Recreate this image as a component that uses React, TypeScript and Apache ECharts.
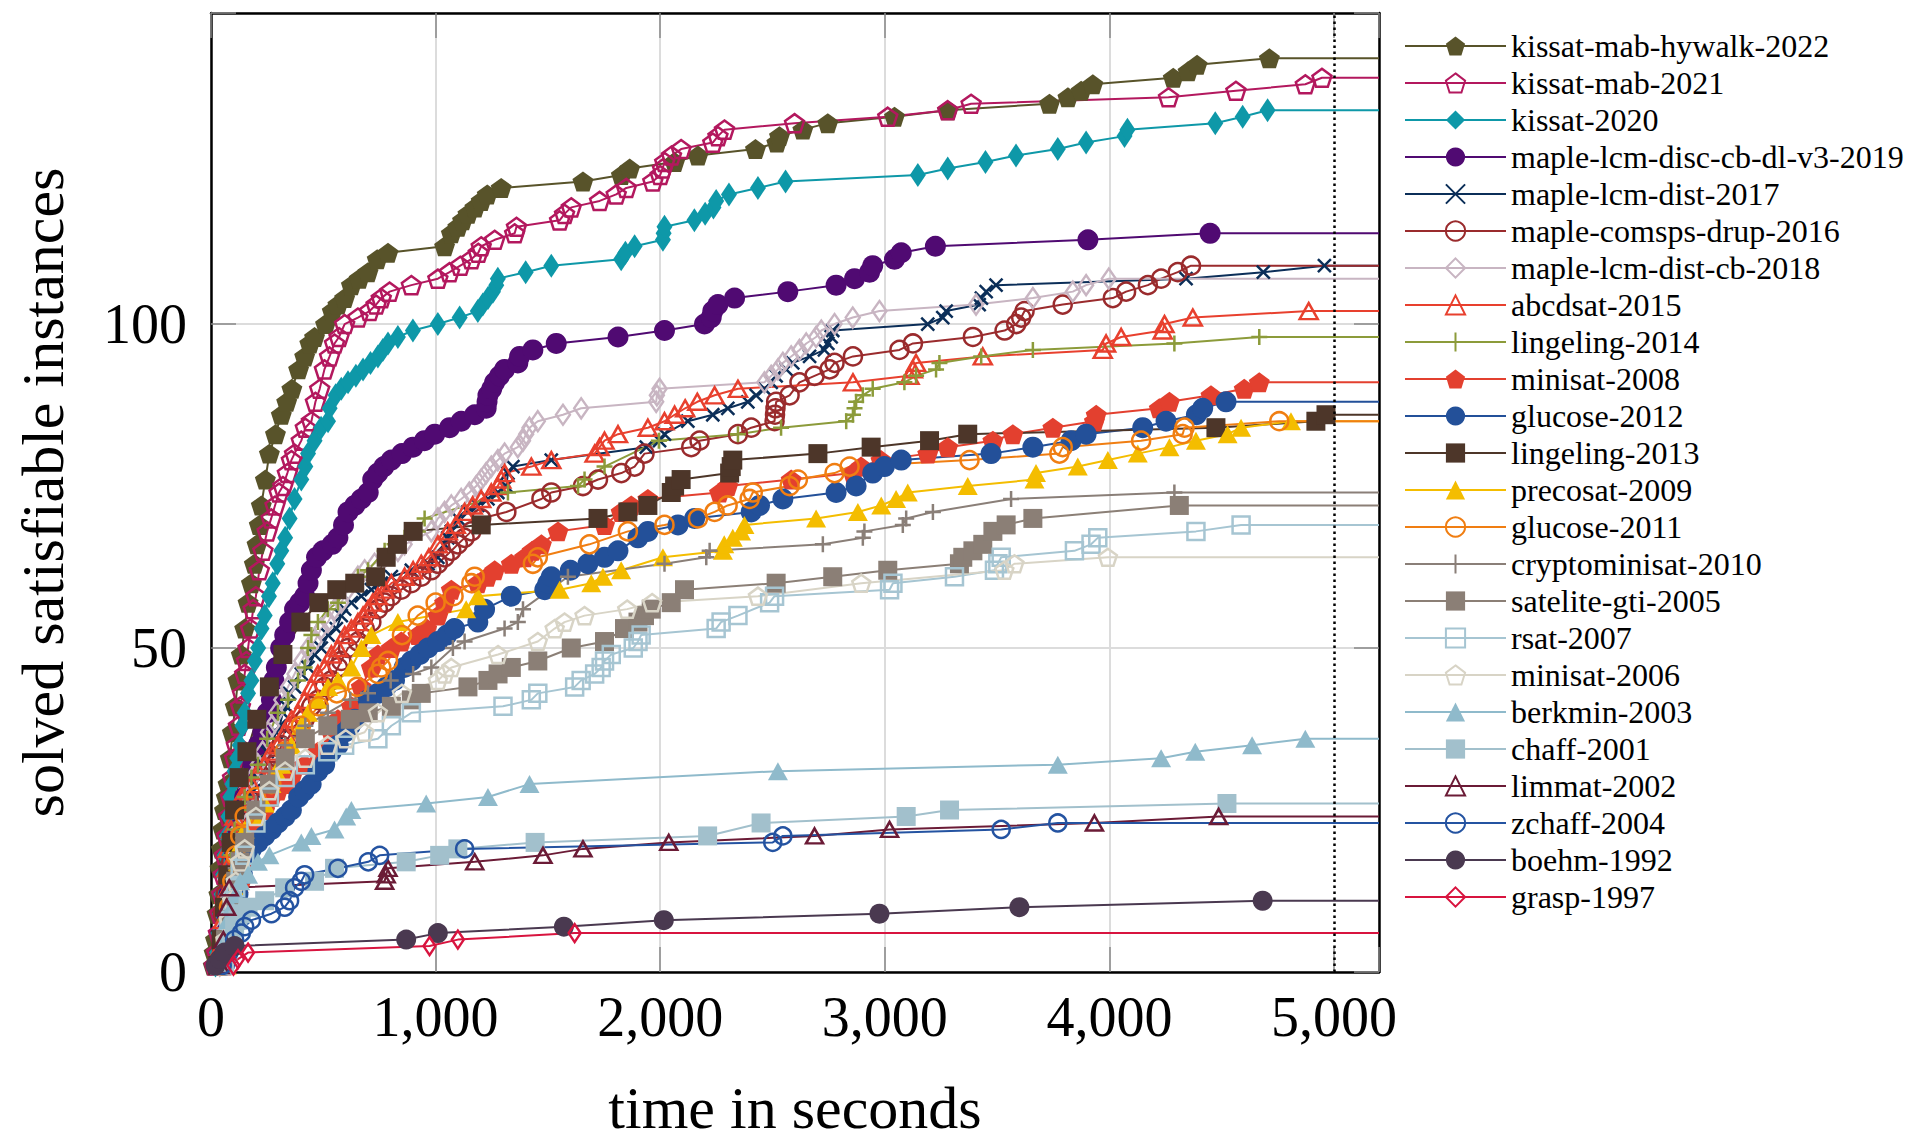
import React, { useEffect, useRef } from 'react';
import * as echarts from 'echarts';

const FONT = '"Liberation Serif", "Times New Roman", serif';

// x-axis ticks and range (seconds), y-axis ticks and range (instances)
const xTickStep = 1000;
const xMax = 5200;
const yTickStep = 50;
const yMax = 148;
const timeoutLine = 5000;

// [time in seconds, solved instances]
const kissatMabHywalk2022 = [[10,1],[14,3],[20,5],[27,9],[35,12],[40,16],[46,19],[53,22],[60,25],[68,27],[76,29],[86,33],[95,37],[108,41],[120,45],[135,49],[150,53],[165,57],[180,60],[193,63],[205,66],[215,69],[224,72],[242,76],[260,80],[287,83],[313,86],[337,88],[360,90],[390,93],[417,95],[440,97],[461,98],[510,100],[540,102],[565,103],[595,104],[625,106],[660,107],[699,108],[740,110],[788,111],[1040,112],[1070,114],[1099,115],[1120,116],[1144,117],[1175,118],[1203,119],[1230,120],[1292,121],[1656,122],[1827,123],[1864,124],[2064,125],[2168,126],[2424,127],[2519,128],[2531,129],[2635,130],[2746,131],[3043,132],[3280,133],[3733,134],[3815,135],[3874,136],[3926,137],[4284,138],[4350,139],[4390,140],[4712,141]];
const kissatMab2021 = [[15,1],[25,3],[33,6],[40,9],[48,12],[55,15],[61,18],[70,21],[78,24],[87,27],[96,30],[105,33],[113,35],[122,38],[131,41],[140,43],[150,46],[158,48],[165,50],[176,53],[188,56],[200,58],[215,62],[231,65],[250,68],[268,70],[285,72],[303,74],[320,75],[340,77],[358,79],[372,80],[402,82],[420,84],[447,85],[465,88],[484,90],[505,93],[528,95],[550,97],[570,98],[595,100],[654,101],[706,102],[735,103],[758,104],[795,105],[892,106],[1010,107],[1062,108],[1110,109],[1159,110],[1190,111],[1203,112],[1263,113],[1352,114],[1360,115],[1552,116],[1574,117],[1604,118],[1730,119],[1804,120],[1849,121],[1967,122],[2000,123],[2010,124],[2020,125],[2050,126],[2093,127],[2234,128],[2257,129],[2286,130],[2598,131],[3013,132],[3280,133],[3384,134],[4263,135],[4563,136],[4872,137],[4946,138]];
const kissat2020 = [[20,1],[27,3],[33,6],[40,9],[47,12],[54,15],[61,18],[70,21],[78,24],[86,27],[95,29],[105,31],[117,33],[128,35],[140,38],[150,40],[165,43],[180,45],[195,48],[210,50],[225,53],[239,55],[258,58],[275,60],[295,63],[313,65],[330,67],[350,70],[372,73],[402,76],[420,78],[432,80],[461,82],[490,84],[521,85],[528,87],[555,89],[580,90],[610,91],[645,92],[677,93],[710,94],[743,95],[765,96],[788,97],[832,98],[899,99],[1010,100],[1107,101],[1188,102],[1210,103],[1233,104],[1255,105],[1270,106],[1277,107],[1401,108],[1515,109],[1826,110],[1845,111],[1886,112],[2012,113],[2015,114],[2019,115],[2152,116],[2200,117],[2237,118],[2249,119],[2306,120],[2435,121],[2558,122],[3147,123],[3280,124],[3448,125],[3584,126],[3770,127],[3896,128],[4067,129],[4080,130],[4471,131],[4593,132],[4704,133]];
const mapleLcmDiscCbDlV32019 = [[46,1],[53,3],[61,6],[70,9],[80,12],[91,14],[105,18],[120,22],[135,25],[150,27],[168,30],[187,32],[210,35],[231,37],[250,40],[269,42],[280,45],[291,47],[310,50],[328,52],[350,54],[372,56],[395,57],[417,58],[432,60],[447,62],[470,64],[498,65],[540,66],[565,67],[590,69],[610,71],[640,72],[669,73],[700,74],[720,76],[743,77],[770,78],[803,79],[850,80],[899,81],[950,82],[996,83],[1062,84],[1114,85],[1174,86],[1225,87],[1229,88],[1233,89],[1250,90],[1263,91],[1285,92],[1307,93],[1366,94],[1374,95],[1433,96],[1537,97],[1812,98],[2019,99],[2197,100],[2227,101],[2234,102],[2257,103],[2331,104],[2568,105],[2783,106],[2865,107],[2932,108],[2946,109],[3043,110],[3073,111],[3225,112],[3904,113],[4448,114]];
const mapleLcmDist2017 = [[40,1],[55,4],[70,8],[90,12],[110,16],[130,19],[150,22],[170,25],[190,28],[210,30],[230,32],[250,34],[270,35],[290,37],[306,38],[320,40],[335,41],[350,43],[372,44],[402,46],[432,47],[461,49],[491,50],[521,52],[558,53],[580,55],[595,56],[625,57],[669,58],[714,59],[758,60],[803,61],[892,62],[966,63],[1010,64],[1040,66],[1054,67],[1070,68],[1099,70],[1144,71],[1188,72],[1233,73],[1277,74],[1315,75],[1322,77],[1344,78],[1515,79],[1938,81],[1997,82],[2019,83],[2123,85],[2234,86],[2301,87],[2390,88],[2427,89],[2464,90],[2494,91],[2516,92],[2561,93],[2590,94],[2665,95],[2731,96],[2746,97],[2761,98],[2768,99],[3191,100],[3258,101],[3273,102],[3420,103],[3430,104],[3451,105],[3495,106],[4341,107],[4685,108],[4957,109]];
const mapleComspsDrup2016 = [[39,1],[46,4],[53,9],[65,12],[76,14],[90,17],[105,19],[128,21],[150,22],[172,23],[194,24],[220,26],[246,27],[260,28],[269,29],[276,31],[283,32],[298,33],[313,35],[343,36],[372,38],[417,39],[447,41],[476,42],[506,44],[536,45],[565,47],[580,48],[610,50],[654,51],[684,53],[714,54],[743,56],[773,57],[803,58],[847,59],[892,60],[936,61],[981,62],[1010,63],[1040,64],[1070,65],[1099,66],[1129,67],[1159,68],[1203,70],[1315,71],[1471,73],[1515,74],[1656,75],[1723,76],[1827,77],[1886,78],[1930,80],[2138,81],[2175,82],[2346,83],[2405,84],[2509,85],[2511,86],[2513,87],[2516,88],[2576,89],[2620,91],[2687,92],[2754,93],[2776,94],[2858,95],[3065,96],[3125,97],[3392,98],[3533,99],[3585,100],[3607,101],[3622,102],[3792,103],[4015,104],[4074,105],[4171,106],[4230,107],[4304,108],[4363,109]];
const mapleLcmDistCb2018 = [[39,1],[46,4],[53,7],[65,11],[83,14],[100,18],[120,22],[140,25],[165,27],[185,30],[209,32],[230,34],[254,37],[272,38],[291,40],[313,42],[343,44],[372,46],[402,48],[432,50],[461,51],[491,53],[521,54],[550,56],[580,57],[610,59],[654,61],[684,62],[728,63],[773,64],[832,65],[862,66],[981,68],[1010,70],[1040,71],[1070,72],[1114,73],[1150,74],[1181,75],[1203,76],[1225,77],[1248,78],[1277,79],[1307,80],[1366,81],[1389,82],[1403,83],[1418,84],[1455,85],[1567,86],[1648,87],[1982,88],[1985,89],[1997,90],[2464,91],[2494,92],[2524,93],[2546,94],[2583,95],[2620,96],[2650,97],[2694,98],[2717,99],[2776,100],[2857,101],[2976,102],[3406,103],[3659,104],[3837,105],[3896,106],[3997,107]];
const abcdsat2015 = [[39,1],[45,4],[53,8],[62,12],[70,16],[76,19],[90,22],[105,24],[120,26],[135,27],[158,28],[180,29],[210,31],[239,32],[268,34],[298,35],[328,37],[358,39],[388,40],[417,42],[446,44],[476,46],[506,47],[536,49],[566,50],[595,52],[625,53],[654,54],[677,55],[699,56],[720,57],[743,58],[773,59],[803,60],[862,61],[900,62],[936,63],[970,64],[1010,66],[1054,68],[1090,69],[1129,71],[1165,72],[1203,73],[1248,74],[1277,75],[1292,76],[1307,77],[1426,78],[1515,79],[1708,80],[1730,81],[1752,82],[1812,83],[1945,84],[2019,85],[2064,86],[2111,87],[2165,88],[2242,89],[2346,90],[2858,91],[3110,92],[3125,93],[3139,94],[3436,95],[3970,96],[3985,97],[4052,98],[4237,99],[4245,100],[4371,101],[4887,102]];
const lingeling2014 = [[46,1],[55,4],[65,8],[76,14],[90,18],[105,22],[128,25],[150,27],[180,30],[209,32],[250,36],[298,40],[343,42],[387,45],[417,47],[432,50],[447,52],[476,54],[520,56],[565,57],[595,59],[610,60],[654,61],[699,62],[773,65],[817,66],[862,67],[921,68],[951,70],[1322,74],[1634,75],[1663,76],[1752,78],[1994,82],[2346,83],[2538,84],[2828,85],[2858,86],[2865,87],[2872,88],[2902,89],[2946,90],[3087,91],[3139,92],[3228,93],[3243,94],[3429,95],[3659,96],[4289,97],[4667,98]];
const minisat2008 = [[61,1],[70,3],[76,4],[90,7],[105,9],[120,12],[135,14],[150,17],[165,19],[180,21],[194,23],[239,25],[270,27],[298,28],[330,29],[358,30],[417,32],[476,34],[536,37],[565,39],[625,41],[669,44],[714,47],[743,49],[803,50],[847,51],[921,52],[960,53],[1010,55],[1040,57],[1070,59],[1188,60],[1230,61],[1263,62],[1337,63],[1396,64],[1430,65],[1471,66],[1545,68],[1752,69],[1826,71],[1871,72],[1945,73],[2264,74],[2301,75],[2583,76],[2858,77],[2894,78],[2983,79],[3191,80],[3280,81],[3481,82],[3570,83],[3748,84],[3933,85],[3941,86],[4222,87],[4267,88],[4452,89],[4600,90],[4667,91]];
const glucose2012 = [[60,1],[80,4],[100,8],[120,12],[140,15],[160,18],[180,19],[209,20],[239,21],[270,22],[298,23],[330,24],[358,25],[390,27],[417,28],[446,29],[476,31],[506,32],[536,34],[566,35],[595,37],[620,38],[640,39],[699,42],[743,43],[780,44],[817,45],[860,47],[892,48],[930,49],[966,50],[1010,51],[1050,52],[1084,53],[1188,54],[1218,56],[1337,58],[1486,59],[1500,60],[1515,61],[1600,62],[1678,63],[1752,64],[1812,65],[1901,67],[1945,68],[2079,69],[2153,70],[2405,71],[2442,72],[2546,73],[2783,74],[2872,75],[2946,77],[2998,78],[3073,79],[3473,80],[3659,81],[3829,82],[3896,83],[4148,84],[4252,85],[4387,86],[4415,87],[4519,88]];
const lingeling2013 = [[30,1],[45,5],[60,10],[75,15],[90,20],[105,25],[125,30],[160,34],[204,39],[260,44],[320,49],[400,54],[480,57],[560,59],[640,60],[733,61],[780,64],[830,66],[900,68],[1203,69],[1723,70],[1856,71],[1945,72],[2049,74],[2064,75],[2093,76],[2309,77],[2316,78],[2323,79],[2702,80],[2939,81],[3199,82],[3369,83],[4474,84],[4919,85],[4964,86]];
const precosat2009 = [[70,1],[76,3],[85,6],[91,9],[105,13],[120,17],[135,20],[150,22],[194,24],[239,26],[269,29],[290,31],[313,32],[358,35],[402,38],[432,40],[476,42],[521,44],[565,45],[625,47],[670,50],[714,52],[832,54],[1136,56],[1188,58],[1552,59],[1693,60],[1745,61],[1826,62],[2012,64],[2279,65],[2285,66],[2323,67],[2360,68],[2375,69],[2694,70],[2880,71],[2984,72],[3050,73],[3102,74],[3369,75],[3666,76],[3673,77],[3859,78],[3993,79],[4126,80],[4267,81],[4385,82],[4526,83],[4586,84],[4808,85]];
const glucose2011 = [[50,1],[65,5],[80,10],[95,14],[110,18],[130,21],[150,24],[200,27],[269,29],[328,34],[400,38],[480,41],[560,43],[650,44],[743,46],[758,47],[788,48],[850,52],[920,55],[1000,57],[1080,58],[1159,60],[1174,61],[1433,63],[1455,64],[1685,66],[1856,68],[2019,69],[2168,70],[2242,71],[2300,72],[2398,73],[2412,74],[2576,75],[2613,76],[2776,77],[2843,78],[3377,79],[3777,80],[3792,81],[4141,82],[4326,83],[4334,84],[4756,85]];
const cryptominisat2010 = [[40,1],[55,5],[70,9],[90,13],[110,16],[150,21],[200,26],[260,31],[330,35],[420,38],[520,40],[620,42],[699,43],[800,45],[900,46],[981,47],[1077,50],[1129,51],[1307,53],[1366,54],[1389,56],[1589,61],[2019,63],[2205,64],[2220,65],[2724,66],[2902,67],[2909,68],[3080,69],[3095,70],[3214,71],[3562,73],[4289,74]];
const sateliteGti2005 = [[50,1],[65,5],[80,8],[95,11],[110,14],[130,17],[150,20],[200,25],[260,29],[330,33],[420,36],[520,38],[620,39],[700,40],[803,41],[892,42],[936,43],[1144,44],[1233,45],[1278,46],[1337,47],[1455,48],[1604,50],[1752,51],[1841,53],[1901,54],[1930,55],[1960,56],[2049,57],[2108,59],[2516,60],[2768,61],[3013,62],[3332,63],[3347,64],[3392,65],[3436,66],[3481,68],[3540,69],[3659,70],[4311,72]];
const rsat2007 = [[50,1],[65,4],[80,8],[95,11],[110,13],[130,16],[150,18],[200,23],[260,27],[330,30],[420,32],[520,34],[595,35],[743,36],[803,38],[892,40],[1300,41],[1426,42],[1455,43],[1619,44],[1648,45],[1708,46],[1737,47],[1752,48],[1782,49],[1880,50],[1901,51],[1915,52],[2249,53],[2271,54],[2346,55],[2487,57],[2509,58],[3021,59],[3036,60],[3310,61],[3488,62],[3503,63],[3518,64],[3844,65],[3918,66],[3948,67],[4385,68],[4586,69]];
const minisat2006 = [[50,1],[65,5],[80,8],[95,11],[110,14],[130,17],[150,19],[200,24],[260,28],[330,31],[420,33],[520,35],[600,36],[684,37],[743,40],[850,43],[1010,45],[1040,46],[1070,47],[1278,49],[1455,51],[1530,53],[1574,54],[1663,55],[1853,56],[1964,57],[2435,58],[2895,60],[3532,62],[3577,63],[3993,64]];
const berkmin2003 = [[40,1],[50,3],[61,5],[75,8],[91,10],[110,12],[130,14],[165,15],[209,17],[260,18],[402,20],[447,21],[550,22],[602,24],[625,25],[958,26],[1233,27],[1418,29],[2524,31],[3770,32],[4230,33],[4382,34],[4635,35],[4872,36]];
const chaff2001 = [[60,1],[75,3],[91,5],[105,7],[120,8],[135,9],[165,10],[239,11],[328,13],[461,14],[550,16],[869,17],[1018,18],[1099,19],[1443,20],[2211,21],[2449,23],[3095,24],[3288,25],[4523,26]];
const limmat2002 = [[40,1],[55,5],[70,10],[81,13],[773,14],[780,15],[788,16],[1174,17],[1478,18],[1656,19],[2038,20],[2687,21],[3021,22],[3933,23],[4486,24]];
const zchaff2004 = [[50,1],[80,3],[105,5],[135,6],[150,7],[180,8],[269,9],[328,10],[350,11],[372,13],[402,14],[417,15],[565,16],[700,17],[751,18],[1129,19],[2501,20],[2546,21],[3518,22],[3770,23]];
const boehm1992 = [[20,1],[40,2],[60,3],[105,4],[869,5],[1010,6],[1571,7],[2016,8],[2976,9],[3599,10],[4682,11]];
const grasp1997 = [[100,1],[120,2],[165,3],[973,4],[1099,5],[1619,6]];

const PENTAGON = 'path://M0,-1L0.951,-0.309L0.588,0.809L-0.588,0.809L-0.951,-0.309Z';
const CROSS = 'path://M-1,-1L1,1M-1,1L1,-1';
const PLUS = 'path://M0,-1L0,1M-1,0L1,0';

type Kind = 'fill' | 'hollow' | 'stroke';
interface Spec { name: string; data: number[][]; color: string; symbol: string; size: number | number[]; kind: Kind; }

const specs: Spec[] = [
  { name: 'kissat-mab-hywalk-2022', data: kissatMabHywalk2022, color: '#58532A', symbol: PENTAGON, size: 21, kind: 'fill' },
  { name: 'kissat-mab-2021', data: kissatMab2021, color: '#B3185E', symbol: PENTAGON, size: 19, kind: 'hollow' },
  { name: 'kissat-2020', data: kissat2020, color: '#0E98A8', symbol: 'diamond', size: [16, 24], kind: 'fill' },
  { name: 'maple-lcm-disc-cb-dl-v3-2019', data: mapleLcmDiscCbDlV32019, color: '#500A72', symbol: 'circle', size: 21, kind: 'fill' },
  { name: 'maple-lcm-dist-2017', data: mapleLcmDist2017, color: '#0B2E58', symbol: CROSS, size: 13, kind: 'stroke' },
  { name: 'maple-comsps-drup-2016', data: mapleComspsDrup2016, color: '#9A2B2D', symbol: 'circle', size: 18, kind: 'hollow' },
  { name: 'maple-lcm-dist-cb-2018', data: mapleLcmDistCb2018, color: '#C8B5C2', symbol: 'diamond', size: [14, 20], kind: 'hollow' },
  { name: 'abcdsat-2015', data: abcdsat2015, color: '#E8402E', symbol: 'triangle', size: [18, 16], kind: 'hollow' },
  { name: 'lingeling-2014', data: lingeling2014, color: '#8C9B3A', symbol: PLUS, size: 16, kind: 'stroke' },
  { name: 'minisat-2008', data: minisat2008, color: '#E3402F', symbol: PENTAGON, size: 21, kind: 'fill' },
  { name: 'glucose-2012', data: glucose2012, color: '#235099', symbol: 'circle', size: 21, kind: 'fill' },
  { name: 'lingeling-2013', data: lingeling2013, color: '#4D3629', symbol: 'rect', size: 19, kind: 'fill' },
  { name: 'precosat-2009', data: precosat2009, color: '#F4BD00', symbol: 'triangle', size: [20, 18], kind: 'fill' },
  { name: 'glucose-2011', data: glucose2011, color: '#F07E12', symbol: 'circle', size: 18, kind: 'hollow' },
  { name: 'cryptominisat-2010', data: cryptominisat2010, color: '#8A7F78', symbol: PLUS, size: 16, kind: 'stroke' },
  { name: 'satelite-gti-2005', data: sateliteGti2005, color: '#8B7F76', symbol: 'rect', size: 19, kind: 'fill' },
  { name: 'rsat-2007', data: rsat2007, color: '#A6C5D2', symbol: 'rect', size: 17, kind: 'hollow' },
  { name: 'minisat-2006', data: minisat2006, color: '#D8D4C6', symbol: PENTAGON, size: 18, kind: 'hollow' },
  { name: 'berkmin-2003', data: berkmin2003, color: '#8FBACB', symbol: 'triangle', size: [20, 18], kind: 'fill' },
  { name: 'chaff-2001', data: chaff2001, color: '#A2C0CC', symbol: 'rect', size: 19, kind: 'fill' },
  { name: 'limmat-2002', data: limmat2002, color: '#6B1B36', symbol: 'triangle', size: [17, 15], kind: 'hollow' },
  { name: 'zchaff-2004', data: zchaff2004, color: '#2453A1', symbol: 'circle', size: 17, kind: 'hollow' },
  { name: 'boehm-1992', data: boehm1992, color: '#4A3950', symbol: 'circle', size: 20, kind: 'fill' },
  { name: 'grasp-1997', data: grasp1997, color: '#D8143F', symbol: 'diamond', size: [12, 18], kind: 'hollow' },
];

function itemStyleFor(s: Spec) {
  if (s.kind === 'hollow') return { color: 'rgba(255,255,255,0)', borderColor: s.color, borderWidth: 2.5 };
  if (s.kind === 'stroke') return { color: s.color, borderColor: s.color, borderWidth: 2.5 };
  return { color: s.color, borderColor: s.color, borderWidth: 0 };
}

const xLabel = (v: number) => (v % xTickStep === 0 ? v.toLocaleString('en-US') : '');
const yLabel = (v: number) => (v % yTickStep === 0 ? String(v) : '');

export default function App() {
  const ref = useRef<HTMLDivElement>(null);
  useEffect(() => {
    if (!ref.current) return;
    const chart = echarts.init(ref.current, undefined, { renderer: 'svg' });
    const tickStyle = { show: true, inside: true, length: 25, lineStyle: { color: '#8a8a8a', width: 1.5 } };
    const axisLine = { show: true, onZero: false, lineStyle: { color: '#000', width: 2.5 } };
    const gridColors: string[] = [];
    for (let v = 0; v <= xMax; v += xTickStep) gridColors.push(v === timeoutLine ? 'rgba(0,0,0,0)' : '#dcdcdc');
    gridColors.push('#dcdcdc');

    const series: any[] = specs.map((s) => {
      const last = s.data[s.data.length - 1];
      return {
        type: 'line',
        name: s.name,
        data: [...s.data.map((p) => [p[0], p[1]]), { value: [xMax, last[1]], symbol: 'none' }],
        symbol: s.symbol,
        symbolSize: s.size,
        symbolKeepAspect: true,
        lineStyle: { color: s.color, width: 2 },
        itemStyle: itemStyleFor(s),
        emphasis: { disabled: true },
        silent: true,
        animation: false,
      };
    });
    series.push({
      type: 'line',
      name: '__timeout',
      data: [],
      silent: true,
      animation: false,
      markLine: {
        silent: true,
        animation: false,
        symbol: ['none', 'none'],
        label: { show: false },
        lineStyle: { color: '#000', width: 2.5, type: [2.5, 3.5] },
        data: [{ xAxis: timeoutLine }],
      },
    });

    chart.setOption({
      animation: false,
      backgroundColor: '#fff',
      grid: { left: 211, top: 13, width: 1168, height: 970, containLabel: false },
      xAxis: [
        {
          type: 'value', position: 'bottom', min: 0, max: xMax, interval: xTickStep,
          axisLine, axisTick: tickStyle,
          axisLabel: { formatter: xLabel, fontSize: 56, fontFamily: FONT, color: '#000', margin: 17 },
          splitLine: { show: true, lineStyle: { color: gridColors, width: 2 } },
          name: 'time in seconds', nameLocation: 'middle', nameGap: 106,
          nameTextStyle: { fontSize: 60, fontFamily: FONT, color: '#000' },
        },
        {
          type: 'value', position: 'top', min: 0, max: xMax, interval: xTickStep,
          axisLine, axisTick: tickStyle, axisLabel: { show: false }, splitLine: { show: false },
        },
      ],
      yAxis: [
        {
          type: 'value', position: 'left', min: 0, max: yMax, interval: yTickStep,
          axisLine, axisTick: tickStyle,
          axisLabel: { formatter: yLabel, fontSize: 56, fontFamily: FONT, color: '#000', margin: 24 },
          splitLine: { show: true, lineStyle: { color: '#dcdcdc', width: 2 } },
          name: 'solved satisfiable instances', nameLocation: 'middle', nameGap: 138, nameRotate: 90,
          nameTextStyle: { fontSize: 60, fontFamily: FONT, color: '#000' },
        },
        {
          type: 'value', position: 'right', min: 0, max: yMax, interval: yTickStep,
          axisLine, axisTick: tickStyle, axisLabel: { show: false }, splitLine: { show: false },
        },
      ],
      legend: {
        data: specs.map((s) => s.name),
        orient: 'vertical',
        left: 1404,
        top: 30,
        padding: 0,
        itemWidth: 101,
        itemHeight: 24,
        itemGap: 5,
        selectedMode: false,
        textStyle: { fontSize: 32, fontFamily: FONT, color: '#000', lineHeight: 30 },
      },
      series,
    });
    return () => chart.dispose();
  }, []);
  return <div ref={ref} style={{ position: 'fixed', left: 0, top: 0, width: 1908, height: 1143, background: '#fff' }} />;
}
